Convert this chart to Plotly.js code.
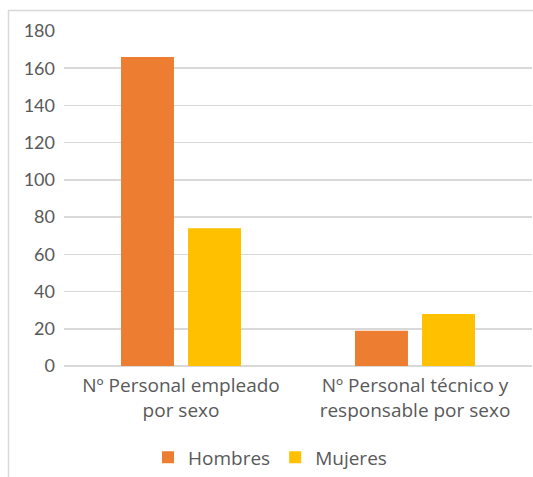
<!DOCTYPE html>
<html>
<head>
<meta charset="utf-8">
<script src="https://cdn.plot.ly/plotly-3.0.1.min.js"></script>
<style>
  html, body { margin: 0; padding: 0; background: #fff; }
  #chart { width: 533px; height: 477px; }
</style>
</head>
<body>
<div id="chart"></div>
<script>
// Personal de la organización, desglosado por sexo
const categories = [
  "Nº Personal empleado<br>por sexo",
  "Nº Personal técnico y<br>responsable por sexo"
];
const hombres = [166, 19];
const mujeres = [74, 28];
const seriesNames = ["Hombres", "Mujeres"];
const yTicks = [0, 20, 40, 60, 80, 100, 120, 140, 160, 180];

const W = 533, H = 477;
const margin = { l: 64, r: 1, t: 31, b: 109 };
const plotW = W - margin.l - margin.r;
const plotH = H - margin.t - margin.b;
const px2x = px => (px - margin.l) / plotW;
const px2y = py => (H - margin.b - py) / plotH;

const textColor = "#595959";
const tickFont = { family: "Lato, 'Open Sans', sans-serif", size: 18, color: textColor };
const labelFont = { family: "'Open Sans', Lato, sans-serif", size: 19, color: textColor };

const traces = [
  { type: "bar", name: seriesNames[0], x: categories, y: hombres,
    marker: { color: "#ED7D31" }, hoverinfo: "y+name" },
  { type: "bar", name: seriesNames[1], x: categories, y: mujeres,
    marker: { color: "#FFC000" }, hoverinfo: "y+name" }
];

const layout = {
  width: W, height: H,
  margin: margin,
  paper_bgcolor: "#fff", plot_bgcolor: "#fff",
  font: labelFont,
  barmode: "group",
  bargap: 0.427,
  bargroupgap: 0.21,
  showlegend: true,
  legend: {
    orientation: "h",
    x: px2x(270), xanchor: "center",
    y: px2y(460), yanchor: "middle",
    font: labelFont,
    itemwidth: 30,
    traceorder: "normal"
  },
  xaxis: {
    type: "category",
    showgrid: false, zeroline: false, showline: false,
    ticks: "",
    ticklabelstandoff: 6,
    tickfont: labelFont,
    automargin: false
  },
  yaxis: {
    range: [0, 180],
    tickvals: yTicks,
    ticktext: yTicks.map(String),
    showgrid: true, gridcolor: "#d9d9d9", gridwidth: 1.5,
    zeroline: true, zerolinecolor: "#d9d9d9", zerolinewidth: 1.5,
    showline: false, ticks: "",
    ticklabelstandoff: 8,
    tickfont: tickFont,
    automargin: false
  },
  shapes: [
    {
      type: "rect", xref: "paper", yref: "paper", layer: "below",
      x0: px2x(8.5), x1: px2x(545),
      y0: px2y(490), y1: px2y(10.5),
      line: { color: "#d9d9d9", width: 1.5 },
      fillcolor: "rgba(0,0,0,0)"
    }
  ]
};

Plotly.newPlot("chart", traces, layout, { displayModeBar: false, staticPlot: true });
</script>
</body>
</html>
